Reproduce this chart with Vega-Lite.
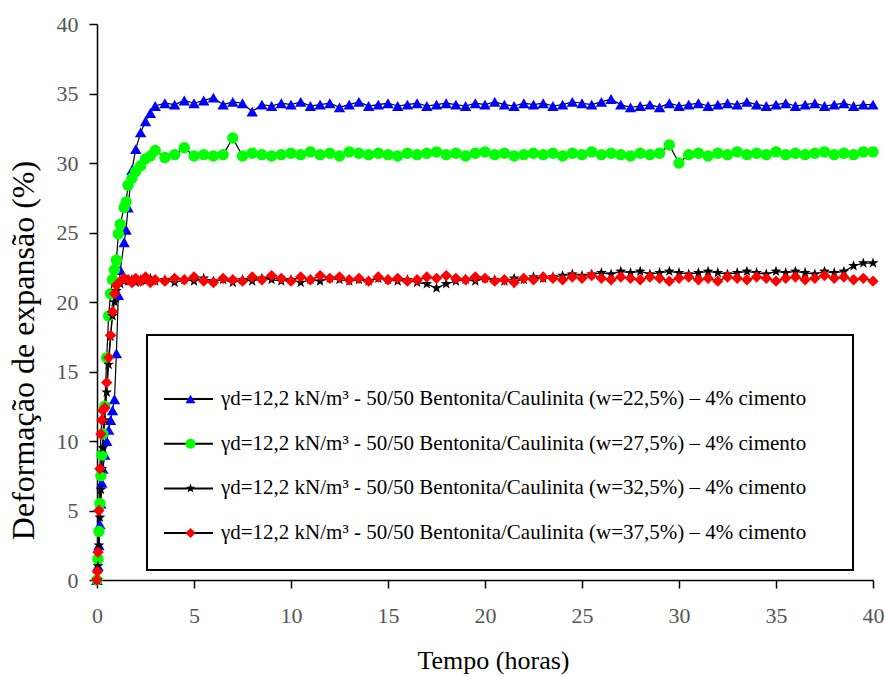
{
  "$schema": "https://vega.github.io/schema/vega-lite/v6.json",
  "autosize": {"type": "none"},
  "width": 776,
  "height": 556,
  "padding": {"left": 97, "top": 24, "right": 12, "bottom": 97},
  "background": "white",
  "config": {
    "view": {"stroke": null},
    "font": "Liberation Serif",
    "axis": {
      "grid": false,
      "domainColor": "black",
      "domainWidth": 1.5,
      "tickColor": "black",
      "tickWidth": 1.5,
      "tickSize": 8,
      "labelFont": "Liberation Serif",
      "labelFontSize": 22,
      "labelColor": "#555555",
      "labelFlush": false,
      "labelOverlap": false,
      "titleFont": "Liberation Serif",
      "titleFontWeight": "normal",
      "titleColor": "black"
    },
    "legend": {
      "labelFont": "Liberation Serif",
      "titleFont": "Liberation Serif",
      "strokeWidth": 2
    }
  },
  "data": {
    "values": [
      {"s":"22,5","t":0,"v":0},{"s":"22,5","t":0.05,"v":1},{"s":"22,5","t":0.1,"v":2.5},{"s":"22,5","t":0.15,"v":4},{"s":"22,5","t":0.2,"v":5.5},{"s":"22,5","t":0.25,"v":7},{"s":"22,5","t":0.3,"v":8},{"s":"22,5","t":0.4,"v":9},{"s":"22,5","t":0.5,"v":10},{"s":"22,5","t":0.6,"v":10.8},{"s":"22,5","t":0.7,"v":11.5},{"s":"22,5","t":0.8,"v":12.2},{"s":"22,5","t":0.9,"v":13},{"s":"22,5","t":1,"v":16.3},{"s":"22,5","t":1.1,"v":20.5},{"s":"22,5","t":1.2,"v":22.3},{"s":"22,5","t":1.4,"v":24.3},{"s":"22,5","t":1.5,"v":25.2},{"s":"22,5","t":1.6,"v":26.8},{"s":"22,5","t":1.8,"v":29.5},{"s":"22,5","t":2,"v":31},{"s":"22,5","t":2.25,"v":32.2},{"s":"22,5","t":2.5,"v":33},{"s":"22,5","t":2.75,"v":33.6},{"s":"22,5","t":3,"v":34.1},
      {"s":"22,5","t":3.5,"v":34.3},{"s":"22,5","t":4,"v":34.2},{"s":"22,5","t":4.5,"v":34.5},{"s":"22,5","t":5,"v":34.3},{"s":"22,5","t":5.5,"v":34.5},{"s":"22,5","t":6,"v":34.7},{"s":"22,5","t":6.5,"v":34.2},{"s":"22,5","t":7,"v":34.4},{"s":"22,5","t":7.5,"v":34.3},{"s":"22,5","t":8,"v":33.7},{"s":"22,5","t":8.5,"v":34.2},{"s":"22,5","t":9,"v":34.1},{"s":"22,5","t":9.5,"v":34.3},{"s":"22,5","t":10,"v":34.2},{"s":"22,5","t":10.5,"v":34.4},{"s":"22,5","t":11,"v":34.1},{"s":"22,5","t":11.5,"v":34.2},{"s":"22,5","t":12,"v":34.3},{"s":"22,5","t":12.5,"v":34.0},{"s":"22,5","t":13,"v":34.2},{"s":"22,5","t":13.5,"v":34.4},{"s":"22,5","t":14,"v":34.1},{"s":"22,5","t":14.5,"v":34.2},{"s":"22,5","t":15,"v":34.3},{"s":"22,5","t":15.5,"v":34.1},{"s":"22,5","t":16,"v":34.2},{"s":"22,5","t":16.5,"v":34.3},{"s":"22,5","t":17,"v":34.1},{"s":"22,5","t":17.5,"v":34.2},{"s":"22,5","t":18,"v":34.3},{"s":"22,5","t":18.5,"v":34.2},{"s":"22,5","t":19,"v":34.1},{"s":"22,5","t":19.5,"v":34.3},{"s":"22,5","t":20,"v":34.2},{"s":"22,5","t":20.5,"v":34.4},{"s":"22,5","t":21,"v":34.2},{"s":"22,5","t":21.5,"v":34.1},{"s":"22,5","t":22,"v":34.3},{"s":"22,5","t":22.5,"v":34.2},{"s":"22,5","t":23,"v":34.3},{"s":"22,5","t":23.5,"v":34.1},{"s":"22,5","t":24,"v":34.2},{"s":"22,5","t":24.5,"v":34.4},{"s":"22,5","t":25,"v":34.3},{"s":"22,5","t":25.5,"v":34.2},{"s":"22,5","t":26,"v":34.4},{"s":"22,5","t":26.5,"v":34.6},{"s":"22,5","t":27,"v":34.2},{"s":"22,5","t":27.5,"v":34.0},{"s":"22,5","t":28,"v":34.1},{"s":"22,5","t":28.5,"v":34.2},{"s":"22,5","t":29,"v":34.0},{"s":"22,5","t":29.5,"v":34.3},{"s":"22,5","t":30,"v":34.1},{"s":"22,5","t":30.5,"v":34.2},{"s":"22,5","t":31,"v":34.3},{"s":"22,5","t":31.5,"v":34.1},{"s":"22,5","t":32,"v":34.2},{"s":"22,5","t":32.5,"v":34.3},{"s":"22,5","t":33,"v":34.2},{"s":"22,5","t":33.5,"v":34.4},{"s":"22,5","t":34,"v":34.2},{"s":"22,5","t":34.5,"v":34.1},{"s":"22,5","t":35,"v":34.2},{"s":"22,5","t":35.5,"v":34.3},{"s":"22,5","t":36,"v":34.1},{"s":"22,5","t":36.5,"v":34.2},{"s":"22,5","t":37,"v":34.3},{"s":"22,5","t":37.5,"v":34.1},{"s":"22,5","t":38,"v":34.2},{"s":"22,5","t":38.5,"v":34.3},{"s":"22,5","t":39,"v":34.1},{"s":"22,5","t":39.5,"v":34.2},{"s":"22,5","t":40,"v":34.2},
      {"s":"27,5","t":0,"v":0},{"s":"27,5","t":0.05,"v":1.5},{"s":"27,5","t":0.1,"v":3.5},{"s":"27,5","t":0.15,"v":5.5},{"s":"27,5","t":0.2,"v":7.5},{"s":"27,5","t":0.25,"v":9},{"s":"27,5","t":0.3,"v":10.5},{"s":"27,5","t":0.4,"v":12.5},{"s":"27,5","t":0.5,"v":16},{"s":"27,5","t":0.6,"v":19},{"s":"27,5","t":0.7,"v":20.6},{"s":"27,5","t":0.8,"v":21.6},{"s":"27,5","t":0.9,"v":22.3},{"s":"27,5","t":1,"v":23},{"s":"27,5","t":1.1,"v":24.9},{"s":"27,5","t":1.2,"v":25.6},{"s":"27,5","t":1.4,"v":26.8},{"s":"27,5","t":1.5,"v":27.2},{"s":"27,5","t":1.6,"v":28.4},{"s":"27,5","t":1.8,"v":28.9},{"s":"27,5","t":2,"v":29.4},{"s":"27,5","t":2.25,"v":29.8},{"s":"27,5","t":2.5,"v":30.3},{"s":"27,5","t":2.75,"v":30.5},{"s":"27,5","t":3,"v":30.9},
      {"s":"27,5","t":3.5,"v":30.4},{"s":"27,5","t":4,"v":30.6},{"s":"27,5","t":4.5,"v":31.1},{"s":"27,5","t":5,"v":30.5},{"s":"27,5","t":5.5,"v":30.6},{"s":"27,5","t":6,"v":30.5},{"s":"27,5","t":6.5,"v":30.6},{"s":"27,5","t":7,"v":31.8},{"s":"27,5","t":7.5,"v":30.5},{"s":"27,5","t":8,"v":30.7},{"s":"27,5","t":8.5,"v":30.6},{"s":"27,5","t":9,"v":30.5},{"s":"27,5","t":9.5,"v":30.6},{"s":"27,5","t":10,"v":30.7},{"s":"27,5","t":10.5,"v":30.6},{"s":"27,5","t":11,"v":30.8},{"s":"27,5","t":11.5,"v":30.6},{"s":"27,5","t":12,"v":30.7},{"s":"27,5","t":12.5,"v":30.5},{"s":"27,5","t":13,"v":30.8},{"s":"27,5","t":13.5,"v":30.7},{"s":"27,5","t":14,"v":30.6},{"s":"27,5","t":14.5,"v":30.7},{"s":"27,5","t":15,"v":30.6},{"s":"27,5","t":15.5,"v":30.5},{"s":"27,5","t":16,"v":30.7},{"s":"27,5","t":16.5,"v":30.6},{"s":"27,5","t":17,"v":30.7},{"s":"27,5","t":17.5,"v":30.8},{"s":"27,5","t":18,"v":30.6},{"s":"27,5","t":18.5,"v":30.7},{"s":"27,5","t":19,"v":30.5},{"s":"27,5","t":19.5,"v":30.7},{"s":"27,5","t":20,"v":30.8},{"s":"27,5","t":20.5,"v":30.6},{"s":"27,5","t":21,"v":30.7},{"s":"27,5","t":21.5,"v":30.5},{"s":"27,5","t":22,"v":30.6},{"s":"27,5","t":22.5,"v":30.7},{"s":"27,5","t":23,"v":30.6},{"s":"27,5","t":23.5,"v":30.7},{"s":"27,5","t":24,"v":30.5},{"s":"27,5","t":24.5,"v":30.7},{"s":"27,5","t":25,"v":30.6},{"s":"27,5","t":25.5,"v":30.8},{"s":"27,5","t":26,"v":30.6},{"s":"27,5","t":26.5,"v":30.7},{"s":"27,5","t":27,"v":30.6},{"s":"27,5","t":27.5,"v":30.5},{"s":"27,5","t":28,"v":30.7},{"s":"27,5","t":28.5,"v":30.6},{"s":"27,5","t":29,"v":30.7},{"s":"27,5","t":29.5,"v":31.3},{"s":"27,5","t":30,"v":30.0},{"s":"27,5","t":30.5,"v":30.6},{"s":"27,5","t":31,"v":30.7},{"s":"27,5","t":31.5,"v":30.5},{"s":"27,5","t":32,"v":30.7},{"s":"27,5","t":32.5,"v":30.6},{"s":"27,5","t":33,"v":30.8},{"s":"27,5","t":33.5,"v":30.6},{"s":"27,5","t":34,"v":30.7},{"s":"27,5","t":34.5,"v":30.6},{"s":"27,5","t":35,"v":30.8},{"s":"27,5","t":35.5,"v":30.6},{"s":"27,5","t":36,"v":30.7},{"s":"27,5","t":36.5,"v":30.6},{"s":"27,5","t":37,"v":30.7},{"s":"27,5","t":37.5,"v":30.8},{"s":"27,5","t":38,"v":30.6},{"s":"27,5","t":38.5,"v":30.7},{"s":"27,5","t":39,"v":30.6},{"s":"27,5","t":39.5,"v":30.8},{"s":"27,5","t":40,"v":30.8},
      {"s":"32,5","t":0,"v":0},{"s":"32,5","t":0.05,"v":1},{"s":"32,5","t":0.1,"v":2.5},{"s":"32,5","t":0.15,"v":4.5},{"s":"32,5","t":0.2,"v":6.5},{"s":"32,5","t":0.25,"v":8},{"s":"32,5","t":0.3,"v":9.5},{"s":"32,5","t":0.4,"v":11.5},{"s":"32,5","t":0.5,"v":13.5},{"s":"32,5","t":0.6,"v":15.5},{"s":"32,5","t":0.7,"v":17.5},{"s":"32,5","t":0.8,"v":19},{"s":"32,5","t":0.9,"v":20},{"s":"32,5","t":1,"v":20.8},{"s":"32,5","t":1.2,"v":21.3},{"s":"32,5","t":1.4,"v":21.5},{"s":"32,5","t":1.6,"v":21.5},{"s":"32,5","t":1.8,"v":21.6},{"s":"32,5","t":2,"v":21.4},{"s":"32,5","t":2.25,"v":21.6},{"s":"32,5","t":2.5,"v":21.5},{"s":"32,5","t":2.75,"v":21.7},{"s":"32,5","t":3,"v":21.5},
      {"s":"32,5","t":3.5,"v":21.6},{"s":"32,5","t":4,"v":21.4},{"s":"32,5","t":4.5,"v":21.6},{"s":"32,5","t":5,"v":21.5},{"s":"32,5","t":5.5,"v":21.7},{"s":"32,5","t":6,"v":21.5},{"s":"32,5","t":6.5,"v":21.6},{"s":"32,5","t":7,"v":21.4},{"s":"32,5","t":7.5,"v":21.6},{"s":"32,5","t":8,"v":21.5},{"s":"32,5","t":8.5,"v":21.7},{"s":"32,5","t":9,"v":21.6},{"s":"32,5","t":9.5,"v":21.5},{"s":"32,5","t":10,"v":21.6},{"s":"32,5","t":10.5,"v":21.4},{"s":"32,5","t":11,"v":21.6},{"s":"32,5","t":11.5,"v":21.5},{"s":"32,5","t":12,"v":21.7},{"s":"32,5","t":12.5,"v":21.6},{"s":"32,5","t":13,"v":21.5},{"s":"32,5","t":13.5,"v":21.6},{"s":"32,5","t":14,"v":21.5},{"s":"32,5","t":14.5,"v":21.7},{"s":"32,5","t":15,"v":21.6},{"s":"32,5","t":15.5,"v":21.5},{"s":"32,5","t":16,"v":21.6},{"s":"32,5","t":16.5,"v":21.4},{"s":"32,5","t":17,"v":21.3},{"s":"32,5","t":17.5,"v":21.0},{"s":"32,5","t":18,"v":21.3},{"s":"32,5","t":18.5,"v":21.5},{"s":"32,5","t":19,"v":21.6},{"s":"32,5","t":19.5,"v":21.5},{"s":"32,5","t":20,"v":21.7},{"s":"32,5","t":20.5,"v":21.6},{"s":"32,5","t":21,"v":21.5},{"s":"32,5","t":21.5,"v":21.7},{"s":"32,5","t":22,"v":21.6},{"s":"32,5","t":22.5,"v":21.8},{"s":"32,5","t":23,"v":21.7},{"s":"32,5","t":23.5,"v":21.8},{"s":"32,5","t":24,"v":21.9},{"s":"32,5","t":24.5,"v":22.0},{"s":"32,5","t":25,"v":21.9},{"s":"32,5","t":25.5,"v":22.0},{"s":"32,5","t":26,"v":22.1},{"s":"32,5","t":26.5,"v":22.0},{"s":"32,5","t":27,"v":22.2},{"s":"32,5","t":27.5,"v":22.1},{"s":"32,5","t":28,"v":22.2},{"s":"32,5","t":28.5,"v":22.0},{"s":"32,5","t":29,"v":22.1},{"s":"32,5","t":29.5,"v":22.2},{"s":"32,5","t":30,"v":22.1},{"s":"32,5","t":30.5,"v":22.0},{"s":"32,5","t":31,"v":22.1},{"s":"32,5","t":31.5,"v":22.2},{"s":"32,5","t":32,"v":22.1},{"s":"32,5","t":32.5,"v":22.0},{"s":"32,5","t":33,"v":22.1},{"s":"32,5","t":33.5,"v":22.2},{"s":"32,5","t":34,"v":22.1},{"s":"32,5","t":34.5,"v":22.0},{"s":"32,5","t":35,"v":22.2},{"s":"32,5","t":35.5,"v":22.1},{"s":"32,5","t":36,"v":22.2},{"s":"32,5","t":36.5,"v":22.1},{"s":"32,5","t":37,"v":22.0},{"s":"32,5","t":37.5,"v":22.2},{"s":"32,5","t":38,"v":22.1},{"s":"32,5","t":38.5,"v":22.2},{"s":"32,5","t":39,"v":22.6},{"s":"32,5","t":39.5,"v":22.8},{"s":"32,5","t":40,"v":22.8},
      {"s":"37,5","t":0,"v":0},{"s":"37,5","t":0.02,"v":0.6},{"s":"37,5","t":0.05,"v":2},{"s":"37,5","t":0.1,"v":5},{"s":"37,5","t":0.15,"v":8},{"s":"37,5","t":0.2,"v":10.5},{"s":"37,5","t":0.25,"v":11.5},{"s":"37,5","t":0.3,"v":12.2},{"s":"37,5","t":0.4,"v":12.4},{"s":"37,5","t":0.5,"v":14.2},{"s":"37,5","t":0.6,"v":16},{"s":"37,5","t":0.7,"v":17.6},{"s":"37,5","t":0.8,"v":19.3},{"s":"37,5","t":0.9,"v":20.6},{"s":"37,5","t":1,"v":21.2},{"s":"37,5","t":1.2,"v":21.5},{"s":"37,5","t":1.4,"v":21.7},{"s":"37,5","t":1.6,"v":21.6},{"s":"37,5","t":1.8,"v":21.4},{"s":"37,5","t":2,"v":21.7},{"s":"37,5","t":2.25,"v":21.5},{"s":"37,5","t":2.5,"v":21.8},{"s":"37,5","t":2.75,"v":21.4},{"s":"37,5","t":3,"v":21.6},
      {"s":"37,5","t":3.5,"v":21.5},{"s":"37,5","t":4,"v":21.7},{"s":"37,5","t":4.5,"v":21.6},{"s":"37,5","t":5,"v":21.8},{"s":"37,5","t":5.5,"v":21.5},{"s":"37,5","t":6,"v":21.4},{"s":"37,5","t":6.5,"v":21.7},{"s":"37,5","t":7,"v":21.6},{"s":"37,5","t":7.5,"v":21.5},{"s":"37,5","t":8,"v":21.8},{"s":"37,5","t":8.5,"v":21.6},{"s":"37,5","t":9,"v":21.9},{"s":"37,5","t":9.5,"v":21.7},{"s":"37,5","t":10,"v":21.5},{"s":"37,5","t":10.5,"v":21.8},{"s":"37,5","t":11,"v":21.6},{"s":"37,5","t":11.5,"v":21.9},{"s":"37,5","t":12,"v":21.7},{"s":"37,5","t":12.5,"v":21.8},{"s":"37,5","t":13,"v":21.6},{"s":"37,5","t":13.5,"v":21.7},{"s":"37,5","t":14,"v":21.5},{"s":"37,5","t":14.5,"v":21.8},{"s":"37,5","t":15,"v":21.6},{"s":"37,5","t":15.5,"v":21.7},{"s":"37,5","t":16,"v":21.5},{"s":"37,5","t":16.5,"v":21.6},{"s":"37,5","t":17,"v":21.8},{"s":"37,5","t":17.5,"v":21.7},{"s":"37,5","t":18,"v":21.9},{"s":"37,5","t":18.5,"v":21.7},{"s":"37,5","t":19,"v":21.6},{"s":"37,5","t":19.5,"v":21.8},{"s":"37,5","t":20,"v":21.7},{"s":"37,5","t":20.5,"v":21.5},{"s":"37,5","t":21,"v":21.6},{"s":"37,5","t":21.5,"v":21.4},{"s":"37,5","t":22,"v":21.7},{"s":"37,5","t":22.5,"v":21.6},{"s":"37,5","t":23,"v":21.8},{"s":"37,5","t":23.5,"v":21.7},{"s":"37,5","t":24,"v":21.6},{"s":"37,5","t":24.5,"v":21.8},{"s":"37,5","t":25,"v":21.7},{"s":"37,5","t":25.5,"v":21.9},{"s":"37,5","t":26,"v":21.7},{"s":"37,5","t":26.5,"v":21.6},{"s":"37,5","t":27,"v":21.8},{"s":"37,5","t":27.5,"v":21.7},{"s":"37,5","t":28,"v":21.6},{"s":"37,5","t":28.5,"v":21.8},{"s":"37,5","t":29,"v":21.7},{"s":"37,5","t":29.5,"v":21.5},{"s":"37,5","t":30,"v":21.7},{"s":"37,5","t":30.5,"v":21.8},{"s":"37,5","t":31,"v":21.6},{"s":"37,5","t":31.5,"v":21.7},{"s":"37,5","t":32,"v":21.5},{"s":"37,5","t":32.5,"v":21.8},{"s":"37,5","t":33,"v":21.7},{"s":"37,5","t":33.5,"v":21.6},{"s":"37,5","t":34,"v":21.8},{"s":"37,5","t":34.5,"v":21.7},{"s":"37,5","t":35,"v":21.5},{"s":"37,5","t":35.5,"v":21.7},{"s":"37,5","t":36,"v":21.8},{"s":"37,5","t":36.5,"v":21.6},{"s":"37,5","t":37,"v":21.7},{"s":"37,5","t":37.5,"v":21.9},{"s":"37,5","t":38,"v":21.7},{"s":"37,5","t":38.5,"v":21.8},{"s":"37,5","t":39,"v":21.6},{"s":"37,5","t":39.5,"v":21.7},{"s":"37,5","t":40,"v":21.5}
    ]
  },
  "encoding": {
    "x": {
      "field": "t",
      "type": "quantitative",
      "scale": {"domain": [0, 40], "nice": false},
      "axis": {
        "title": "Tempo (horas)",
        "values": [0, 5, 10, 15, 20, 25, 30, 35, 40],
        "labelPadding": 17,
        "titleFontSize": 26,
        "titleBaseline": "alphabetic",
        "titleX": 396,
        "titleY": 88
      }
    },
    "y": {
      "field": "v",
      "type": "quantitative",
      "scale": {"domain": [0, 40], "nice": false},
      "axis": {
        "title": "Deformação de expansão (%)",
        "values": [0, 5, 10, 15, 20, 25, 30, 35, 40],
        "labelPadding": 11,
        "titleFontSize": 32,
        "titleAngle": -90,
        "titleBaseline": "alphabetic",
        "titleX": -64,
        "titleY": 326
      }
    }
  },
  "layer": [
    {
      "mark": {"type": "line", "strokeWidth": 1.2},
      "encoding": {
        "color": {
          "field": "s",
          "type": "nominal",
          "scale": {"range": ["black", "black", "black", "black"]},
          "legend": {
            "orient": "none",
            "legendX": 50,
            "legendY": 311,
            "title": " ",
            "titleFont": "Liberation Serif",
            "titleFontSize": 21,
            "titlePadding": 7,
            "padding": 16,
            "strokeColor": "black",
            "symbolType": "stroke",
            "symbolSize": 2400,
            "symbolStrokeWidth": 2,
            "symbolStrokeColor": "black",
            "clipHeight": 40,
            "rowPadding": 4.7,
            "labelFont": "Liberation Serif",
            "labelFontSize": 21,
            "labelColor": "black",
            "labelOffset": 7,
            "labelLimit": 800,
            "labelExpr": "'γd=12,2 kN/m³ - 50/50 Bentonita/Caulinita (w=' + datum.label + '%) – 4% cimento\u2800\u2800'"
          }
        }
      }
    },
    {
      "mark": {"type": "point", "filled": true, "size": 130, "opacity": 1, "strokeWidth": 0},
      "encoding": {
        "fill": {
          "field": "s",
          "type": "nominal",
          "scale": {"domain": ["22,5", "27,5", "32,5", "37,5"], "range": ["#0000ff", "#00ff00", "#000000", "#ff0000"]},
          "legend": {
            "orient": "none",
            "legendX": 67,
            "legendY": 311,
            "title": " ",
            "titleFont": "Liberation Serif",
            "titleFontSize": 21,
            "titlePadding": 7,
            "padding": 16,
            "symbolSize": 100,
            "symbolStrokeWidth": 0,
            "clipHeight": 40,
            "rowPadding": 4.7,
            "labelFont": "Liberation Serif",
            "labelFontSize": 21,
            "labelOffset": 0,
            "labelExpr": "' '"
          }
        },
        "shape": {
          "field": "s",
          "type": "nominal",
          "scale": {
            "domain": ["22,5", "27,5", "32,5", "37,5"],
            "range": ["triangle-up", "circle", "M0,-1L0.235,-0.324L0.951,-0.309L0.38,0.124L0.588,0.809L0,0.4L-0.588,0.809L-0.38,0.124L-0.951,-0.309L-0.235,-0.324Z", "diamond"]
          }
        }
      }
    }
  ]
}
